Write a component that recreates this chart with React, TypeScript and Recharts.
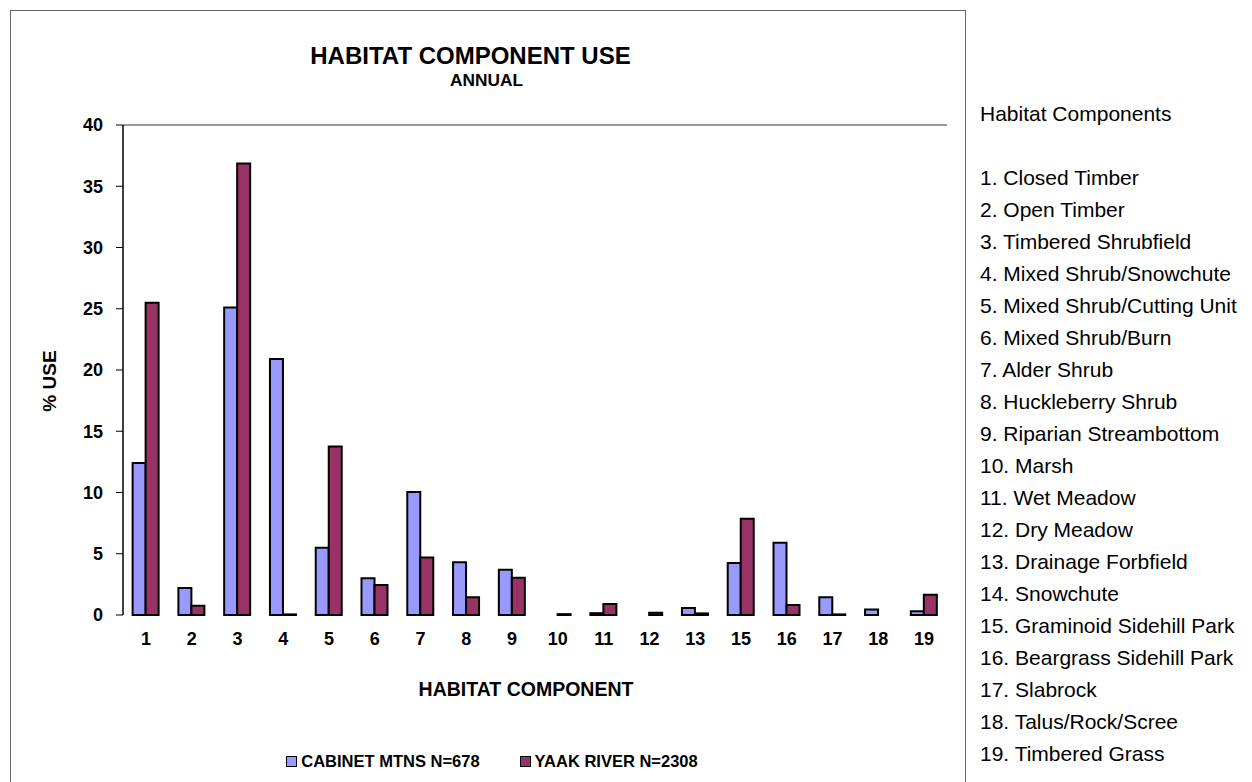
import React from 'react';
import {
  BarChart, Bar, XAxis, YAxis, ReferenceLine, Legend,
} from 'recharts';

const categories = ['1', '2', '3', '4', '5', '6', '7', '8', '9', '10', '11', '12', '13', '15', '16', '17', '18', '19'];
const cabinet = [12.4, 2.2, 25.1, 20.9, 5.5, 3.0, 10.05, 4.3, 3.7, 0, 0.15, 0, 0.57, 4.25, 5.9, 1.45, 0.45, 0.3];
const yaak = [25.5, 0.75, 36.85, 0.05, 13.75, 2.45, 4.7, 1.45, 3.05, 0.07, 0.9, 0.18, 0.13, 7.85, 0.82, 0.05, 0, 1.65];
const yTicks = [0, 5, 10, 15, 20, 25, 30, 35, 40];
const edgeTicks = categories.map((_, i) => i).concat([categories.length]);

const components = [
  'Closed Timber', 'Open Timber', 'Timbered Shrubfield', 'Mixed Shrub/Snowchute',
  'Mixed Shrub/Cutting Unit', 'Mixed Shrub/Burn', 'Alder Shrub', 'Huckleberry Shrub',
  'Riparian Streambottom', 'Marsh', 'Wet Meadow', 'Dry Meadow', 'Drainage Forbfield',
  'Snowchute', 'Graminoid Sidehill Park', 'Beargrass Sidehill Park', 'Slabrock',
  'Talus/Rock/Scree', 'Timbered Grass',
];

const BLUE = '#9999FF';
const RED = '#993366';
const FONT = 'Arial, "Liberation Sans", sans-serif';

const data = categories.map((c, i) => ({ name: c, cabinet: cabinet[i], yaak: yaak[i] }));

// centred text, line-height 1 so the box centre sits on the cap centre
const label = (left: number, top: number, size: number, extra = '') => ({
  position: 'absolute' as const,
  left,
  top,
  fontSize: size,
  lineHeight: 1,
  fontWeight: 'bold' as const,
  whiteSpace: 'nowrap' as const,
  transform: `translate(-50%, -50%) ${extra}`,
});

const renderLegend = () => (
  <div style={{ display: 'flex', justifyContent: 'center', fontFamily: FONT, fontWeight: 'bold', fontSize: 16.5, lineHeight: 1, paddingLeft: 8 }}>
    {[['CABINET MTNS N=678', BLUE], ['YAAK RIVER N=2308', RED]].map(([text, col], i) => (
      <div key={text} style={{ display: 'flex', alignItems: 'center', marginLeft: i ? 40 : 0 }}>
        <span style={{ width: 9, height: 9, background: col, border: '1px solid #000', marginRight: 4 }} />
        <span>{text}</span>
      </div>
    ))}
  </div>
);

export default function App() {
  return (
    <div style={{ fontFamily: FONT }}>
      <div style={{ position: 'relative', marginLeft: 2, marginTop: 2, width: 954, height: 790, border: '1px solid #666' }}>
        <div style={label(459.5, 45, 24)}>HABITAT COMPONENT USE</div>
        <div style={label(475.5, 70, 17.3)}>ANNUAL</div>
        <div style={label(38, 370, 19, 'rotate(-90deg)')}>% USE</div>
        <div style={label(515, 679, 19.5)}>HABITAT COMPONENT</div>
        <BarChart
          width={954}
          height={790}
          data={data}
          margin={{ top: 114, right: 18, left: 72, bottom: 156 }}
          barCategoryGap="21%"
          barGap={0}
        >
          <XAxis
            xAxisId="edges"
            type="number"
            domain={[0, categories.length]}
            ticks={edgeTicks}
            tick={{ fill: 'none', fontSize: 0 }}
            height={0}
            tickSize={6}
            axisLine={{ stroke: '#000', strokeWidth: 1.5 }}
            tickLine={{ stroke: '#000' }}
          />
          <XAxis
            dataKey="name"
            height={30}
            axisLine={false}
            tickLine={false}
            interval={0}
            tickSize={6}
            tickMargin={11}
            tick={{ fill: '#000', fontSize: 18, fontWeight: 'bold', fontFamily: FONT }}
          />
          <YAxis
            domain={[0, 40]}
            ticks={yTicks}
            width={40}
            tickSize={7}
            tickMargin={13}
            axisLine={{ stroke: '#000', strokeWidth: 1.5 }}
            tickLine={{ stroke: '#000' }}
            tick={{ fill: '#000', fontSize: 18, fontWeight: 'bold', fontFamily: FONT }}
          />
          <ReferenceLine y={40} stroke="#999" strokeWidth={2} />
          <ReferenceLine xAxisId="edges" x={categories.length} stroke="#999" strokeWidth={2} />
          <Legend
            layout="horizontal"
            verticalAlign="middle"
            align="center"
            content={renderLegend}
            wrapperStyle={{ top: 742, left: 0, width: 954 }}
          />
          <Bar dataKey="cabinet" name="CABINET MTNS N=678" fill={BLUE} stroke="#000" strokeWidth={2} isAnimationActive={false} />
          <Bar dataKey="yaak" name="YAAK RIVER N=2308" fill={RED} stroke="#000" strokeWidth={2} isAnimationActive={false} />
        </BarChart>
      </div>
      <div style={{ fontSize: 21, lineHeight: 1, color: '#000' }}>
        <div style={{ position: 'absolute', left: 980, top: 102.5, whiteSpace: 'nowrap' }}>Habitat Components</div>
        {components.map((c, i) => (
          <div key={c} style={{ position: 'absolute', left: 980, top: 166.5 + i * 32, whiteSpace: 'nowrap' }}>
            {`${i + 1}. ${c}`}
          </div>
        ))}
      </div>
    </div>
  );
}
